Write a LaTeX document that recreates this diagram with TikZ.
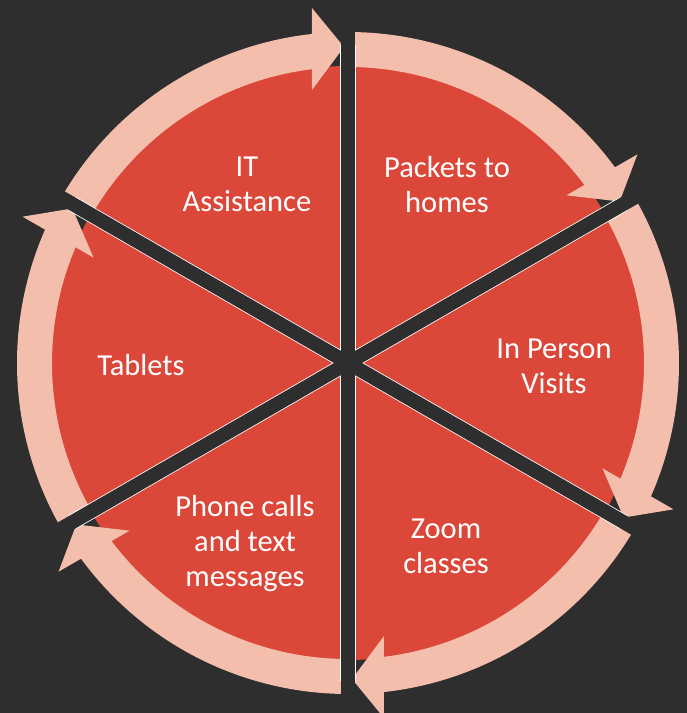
\documentclass[tikz,border=0pt]{standalone}
\usepackage{fontspec}
\setmainfont{Carlito}
\definecolor{bg}{RGB}{46,46,46}
\definecolor{segred}{RGB}{219,71,57}
\definecolor{bandpink}{RGB}{244,190,172}
\begin{document}
\begin{tikzpicture}[x=1pt,y=1pt,
  lbl/.style={text=white, align=center, inner sep=0pt, font=\fontsize{30.5}{35}\selectfont},
  edgeline/.style={white, line width=15.6pt},
  gapline/.style={bg, line width=14pt}]
\fill[bg] (-348,-350) rectangle (339,363);
\clip (-348,-350) rectangle (339,363);
\fill[segred] (0,0) circle[radius=297];
\foreach \e in {90,30,-30,-90,-150,150} {
  \begin{scope}[rotate=\e-90]
    \fill[bandpink] (150:296) arc[start angle=150,end angle=96,radius=296]
      -- (96:331) arc[start angle=96,end angle=150,radius=331] -- cycle;
    \fill[bandpink] (-36,273) -- (-36,355) -- (-4,316) -- cycle;
  \end{scope}
}
\foreach \a in {90,30,-30,-90,-150,150} \draw[edgeline] (0,0) -- (\a:318);
\foreach \a in {90,30,-30,-90,-150,150} \draw[gapline] (0,0) -- (\a:380);
\node[lbl] (it) at (-101,179) {IT\\Assistance};
\node[lbl] (packets) at (99,178) {Packets to\\homes};
\node[lbl] (visits) at (206,-3) {In Person\\Visits};
\node[lbl] (zoom) at (98,-183) {Zoom\\classes};
\node[lbl] (phone) at (-103,-181) {Phone calls\\and text\\messages};
\node[lbl] (tablets) at (-207,-2) {Tablets};
\end{tikzpicture}
\end{document}
